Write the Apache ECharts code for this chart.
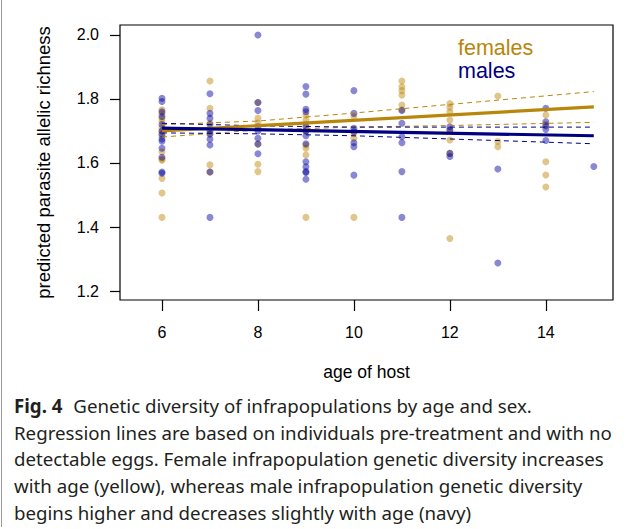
<!DOCTYPE html>
<html>
<head>
<meta charset="utf-8">
<script src="https://cdn.jsdelivr.net/npm/echarts@6/dist/echarts.min.js"></script>
<style>
  html, body { margin: 0; padding: 0; background: #fff; }
  #wrap { position: relative; width: 635px; height: 529px; overflow: hidden; }
  #frame { position: absolute; left: 1px; top: 0; width: 1px; height: 527px; background: #9a9a9a; }
  #chart { position: absolute; left: 0; top: 0; width: 635px; height: 395px; }
  #caption {
    position: absolute; left: 14px; top: 393px; width: 620px;
    font-family: "Noto Sans", sans-serif; font-size: 18.7px; line-height: 26.7px;
    color: #231f20; white-space: nowrap;
  }
  #caption b { font-weight: 700; margin-right: 6px; }
</style>
</head>
<body>
<div id="wrap">
  <div id="frame"></div>
  <div id="chart"></div>
  <div id="caption">
    <b>Fig. 4</b> Genetic diversity of infrapopulations by age and sex.<br>
    Regression lines are based on individuals pre-treatment and with no<br>
    detectable eggs. Female infrapopulation genetic diversity increases<br>
    with age (yellow), whereas male infrapopulation genetic diversity<br>
    begins higher and decreases slightly with age (navy)
  </div>
</div>
<script>
// host ages (x) and the richness values read per age column
const ages = [6, 7, 8, 9, 10, 11, 12, 13, 14, 15]
const femaleRichness = [
  [1.766, 1.755, 1.74, 1.73, 1.71, 1.70, 1.685, 1.635, 1.612, 1.609, 1.552, 1.506, 1.43],
  [1.856, 1.771, 1.724, 1.693, 1.594, 1.572],
  [1.789, 1.74, 1.725, 1.659, 1.596, 1.573],
  [1.75, 1.735, 1.72, 1.70, 1.656, 1.646, 1.625, 1.43],
  [1.745, 1.693, 1.677, 1.43],
  [1.856, 1.838, 1.826, 1.812, 1.781, 1.766],
  [1.786, 1.774, 1.76, 1.734, 1.703, 1.672, 1.63, 1.364],
  [1.809, 1.667, 1.651],
  [1.75, 1.72, 1.604, 1.5625, 1.525],
  []
]
const maleRichness = [
  [1.802, 1.792, 1.76, 1.745, 1.72, 1.70, 1.69, 1.675, 1.668, 1.646, 1.618, 1.572, 1.568],
  [1.816, 1.755, 1.74, 1.72, 1.70, 1.69, 1.674, 1.656, 1.572, 1.43],
  [2.0, 1.789, 1.764, 1.713, 1.70, 1.677, 1.659, 1.629],
  [1.839, 1.815, 1.768, 1.76, 1.713, 1.70, 1.685, 1.66, 1.604, 1.588, 1.573, 1.57, 1.549],
  [1.826, 1.755, 1.708, 1.698, 1.663, 1.651, 1.562],
  [1.764, 1.724, 1.682, 1.663, 1.573, 1.43],
  [1.713, 1.703, 1.63, 1.62],
  [1.581, 1.2875],
  [1.771, 1.729, 1.716, 1.705, 1.67],
  [1.589]
]

// regression fits and confidence bands
const fitAges = [6, 15]
const femaleFit = [1.700, 1.775]
const maleFit = [1.709, 1.685]
const ciAges = [6, 8, 10, 12, 15]
const femaleUpper = [1.720, 1.731, 1.756, 1.783, 1.823]
const femaleLower = [1.681, 1.703, 1.712, 1.717, 1.727]
const maleUpper = [1.724, 1.716, 1.712, 1.712, 1.712]
const maleLower = [1.694, 1.691, 1.685, 1.675, 1.660]

const xTicks = [6, 8, 10, 12, 14]
const yTicks = [1.2, 1.4, 1.6, 1.8, 2.0]

const GOLD = '#b8860b'
const NAVY = '#000080'

function toPoints(values) {
  const out = []
  values.forEach((col, i) => col.forEach(v => out.push([ages[i], v])))
  return out
}
function pair(xs, ys) {
  return xs.map((x, i) => [x, ys[i]])
}
function ciLine(data, color) {
  return {
    type: 'line', data: data, symbol: 'none', silent: true, z: 3,
    lineStyle: { color: color, width: 1, type: [5, 4] }
  }
}

const chart = echarts.init(document.getElementById('chart'), null, { renderer: 'svg' })
const font = '"Liberation Sans", Arial, sans-serif'

chart.setOption({
  animation: false,
  textStyle: { fontFamily: font },
  grid: {
    left: 120, top: 25, width: 493, height: 275,
    show: true, borderColor: '#000', borderWidth: 1.2, backgroundColor: 'transparent'
  },
  xAxis: {
    type: 'value', min: 5.125, max: 15.4,
    name: 'age of host', nameLocation: 'middle', nameGap: 63,
    nameTextStyle: { fontSize: 17.5, color: '#000', fontFamily: font },
    axisLine: { show: false },
    splitLine: { show: false },
    axisTick: { show: true, length: 11, customValues: xTicks, lineStyle: { color: '#000', width: 1.2 } },
    axisLabel: { customValues: xTicks, margin: 24, fontSize: 16, color: '#000', fontFamily: font }
  },
  yAxis: {
    type: 'value', min: 1.172, max: 2.031,
    name: 'predicted parasite allelic richness', nameLocation: 'middle', nameGap: 67,
    nameTextStyle: { fontSize: 18.5, color: '#000', fontFamily: font },
    axisLine: { show: false },
    splitLine: { show: false },
    axisTick: { show: true, length: 10, customValues: yTicks, lineStyle: { color: '#000', width: 1.2 } },
    axisLabel: {
      customValues: yTicks, margin: 21, fontSize: 16, color: '#000', fontFamily: font,
      formatter: v => v.toFixed(1)
    }
  },
  graphic: [
    { type: 'text', left: 458, top: 37, style: { text: 'females', fill: GOLD, font: '21.5px ' + font, lineHeight: 20 } },
    { type: 'text', left: 458, top: 60, style: { text: 'males', fill: NAVY, font: '21.5px ' + font, lineHeight: 20 } }
  ],
  series: [
    {
      type: 'scatter', data: toPoints(femaleRichness), symbolSize: 7, z: 2,
      itemStyle: { color: 'rgba(190,135,10,0.6)' }
    },
    {
      type: 'scatter', data: toPoints(maleRichness), symbolSize: 7, z: 2,
      itemStyle: { color: 'rgba(0,0,160,0.58)' }
    },
    ciLine(pair(ciAges, femaleUpper), GOLD),
    ciLine(pair(ciAges, femaleLower), GOLD),
    ciLine(pair(ciAges, maleUpper), NAVY),
    ciLine(pair(ciAges, maleLower), NAVY),
    {
      type: 'line', data: pair(fitAges, femaleFit), symbol: 'none', z: 4,
      lineStyle: { color: GOLD, width: 3.2 }
    },
    {
      type: 'line', data: pair(fitAges, maleFit), symbol: 'none', z: 4,
      lineStyle: { color: NAVY, width: 3.2 }
    }
  ]
})
</script>
</body>
</html>
